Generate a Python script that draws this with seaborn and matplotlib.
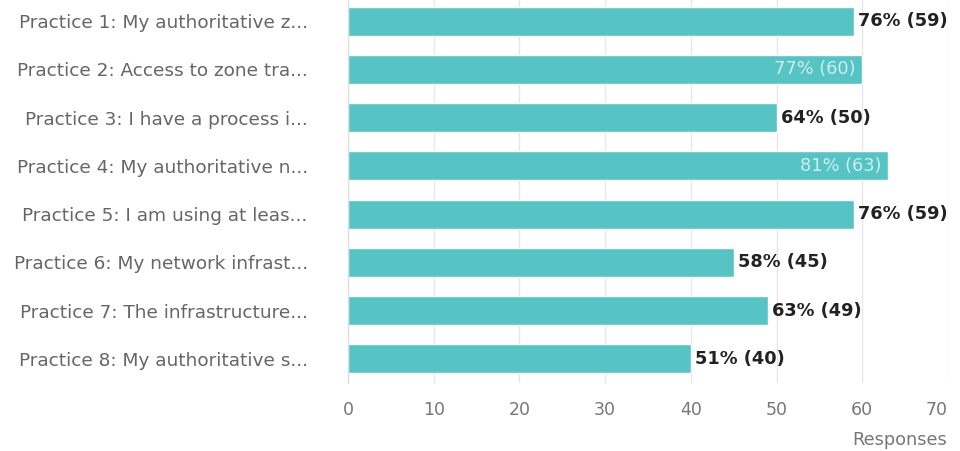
import matplotlib
matplotlib.use("Agg")
import matplotlib.pyplot as plt
import matplotlib.transforms as mtransforms
import seaborn as sns
import pandas as pd

categories = [
    "Practice 1: My authoritative z...",
    "Practice 2: Access to zone tra...",
    "Practice 3: I have a process i...",
    "Practice 4: My authoritative n...",
    "Practice 5: I am using at leas...",
    "Practice 6: My network infrast...",
    "Practice 7: The infrastructure...",
    "Practice 8: My authoritative s...",
]
responses = [59, 60, 50, 63, 59, 45, 49, 40]
percents = [76, 77, 64, 81, 76, 58, 63, 51]
xticks = [0, 10, 20, 30, 40, 50, 60, 70]

df = pd.DataFrame({"cat": categories, "resp": responses, "pct": percents})

sns.set_theme(style="white")
plt.rcParams["font.family"] = ["DejaVu Sans"]

fig = plt.figure(figsize=(9.6, 4.51), dpi=100)
left, right, top, bottom = 348, 948, -3, 383
ax = fig.add_axes([left / 960, 1 - bottom / 451, (right - left) / 960, (bottom - top) / 451])

sns.barplot(data=df, x="resp", y="cat", color="#56C4C5", saturation=1,
            width=0.6, ax=ax, orient="h")

ax.set_xlim(0, 70)
ax.set_xticks(xticks)
ax.set_xticklabels([str(t) for t in xticks])
ax.grid(axis="x", color="#e6e6e6", linewidth=0.9)
ax.set_axisbelow(True)
for s in ["top", "right", "bottom"]:
    ax.spines[s].set_visible(False)
ax.spines["left"].set_color("#dddddd")
ax.spines["left"].set_linewidth(0.9)

ax.tick_params(axis="y", length=0, pad=29, labelsize=13.3, labelcolor="#666666")
ax.tick_params(axis="x", length=0, pad=13, labelsize=12.5, labelcolor="#777777")
ax.set_ylabel("")
ax.set_xlabel("")

fig.canvas.draw()
last = ax.xaxis.get_major_ticks()[-1].label1
last.set_transform(last.get_transform() + mtransforms.ScaledTranslation(-0.11, 0, fig.dpi_scale_trans))

for i, (r, p) in enumerate(zip(responses, percents)):
    label = f"{p}% ({r})"
    if r >= 60:
        ax.annotate(label, (r, i), xytext=(-5, 0), textcoords="offset points",
                    ha="right", va="center", fontsize=12.8, color="white", alpha=0.7)
    else:
        ax.annotate(label, (r, i), xytext=(3, 0), textcoords="offset points",
                    ha="left", va="center", fontsize=12.8, color="#222222",
                    fontweight="bold")

fig.text(947 / 960, 1 - 440 / 451, "Responses", ha="right", va="center",
         fontsize=12.8, color="#777777")

fig.savefig("out.png", dpi=100, facecolor="white")
